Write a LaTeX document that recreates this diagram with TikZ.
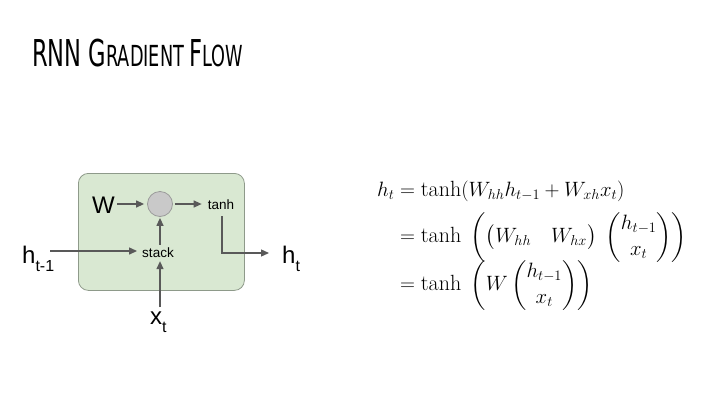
\documentclass[tikz,border=0pt]{standalone}
\usepackage{amsmath}
\usepackage{fontspec}
\newfontfamily\arialf{Liberation Sans}
\newfontfamily\titlef{DejaVu Sans}
\usetikzlibrary{arrows.meta}
\definecolor{boxfill}{HTML}{D9E8D2}
\definecolor{boxdraw}{HTML}{8E9A8A}
\definecolor{circfill}{HTML}{C9C9C9}
\definecolor{circdraw}{HTML}{9A9A9A}
\definecolor{arr}{HTML}{595959}
\begin{document}
\begin{tikzpicture}[x=1pt,y=-1pt,
  lbl/.style={font=\arialf\fontsize{24}{24}\selectfont, inner sep=0pt},
  small/.style={font=\arialf\fontsize{13.5}{14}\selectfont, inner sep=0pt},
  flow/.style={draw=arr, line width=1.3pt, -{Triangle[length=8pt,width=7pt]}},
  plain/.style={draw=arr, line width=1.3pt}]
\useasboundingbox (0,0) rectangle (720,405);
% title
\node[anchor=base west, inner sep=0pt] (title) at (32,66)
  {\scalebox{0.61}[1]{\titlef\fontsize{37}{37}\selectfont RNN G\fontsize{29}{29}\selectfont RADIENT \fontsize{37}{37}\selectfont F\fontsize{29}{29}\selectfont LOW}};
% cell box
\node[draw=boxdraw, fill=boxfill, rounded corners=10pt, line width=0.8pt,
  minimum width=166pt, minimum height=117pt, anchor=north west] (cell) at (78,173) {};
% inner nodes
\node[circle, draw=circdraw, fill=circfill, line width=0.8pt, minimum size=25pt, inner sep=0pt] (mult) at (160,204) {};
\node[lbl, anchor=east] (W) at (115,205) {W};
\node[small] (tanh) at (221,205) {tanh};
\node[small] (stack) at (158,253) {stack};
\node[lbl, anchor=base west] (hprev) at (22,263) {h\raisebox{-8pt}{\fontsize{16}{16}\selectfont t-1}};
\node[lbl, anchor=base west] (hout) at (282,263) {h\raisebox{-8pt}{\fontsize{16}{16}\selectfont t}};
\node[lbl, anchor=base west] (xin) at (150,324) {x\raisebox{-8pt}{\fontsize{16}{16}\selectfont t}};
\coordinate (hin) at (50,251);
\coordinate (xstart) at (160,307);
\coordinate (hend) at (269,253);
% connectors
\draw[flow, shorten <=2pt, shorten >=3pt] (W.east |- mult) -- (mult.west);
\draw[flow, shorten <=2pt, shorten >=6pt] (mult.east) -- (tanh.west |- mult);
\draw[flow, shorten <=3pt, shorten >=1pt] (stack.north -| mult) -- (mult.south);
\draw[flow, shorten >=5pt] (hin) -- (stack.west |- hin);
\draw[flow, shorten >=3pt] (xstart) -- (stack.south -| mult);
\draw[flow] (tanh.south) ++(1,6) |- (hend);
% equations
\node[anchor=north west, inner sep=0pt] (eq) at (377,178) {\fontsize{22}{26}\selectfont
$\begin{aligned}
h_t &= \tanh(W_{hh}h_{t-1} + W_{xh}x_t)\\[3pt]
&= \tanh\;\left(\begin{pmatrix}W_{hh}\hspace{10pt} & W_{hx}\end{pmatrix}\;\begin{pmatrix}h_{t-1}\\ x_t\end{pmatrix}\right)\\[-8pt]
&= \tanh\;\left(W\begin{pmatrix}h_{t-1}\\ x_t\end{pmatrix}\right)
\end{aligned}$};
\end{tikzpicture}
\end{document}
